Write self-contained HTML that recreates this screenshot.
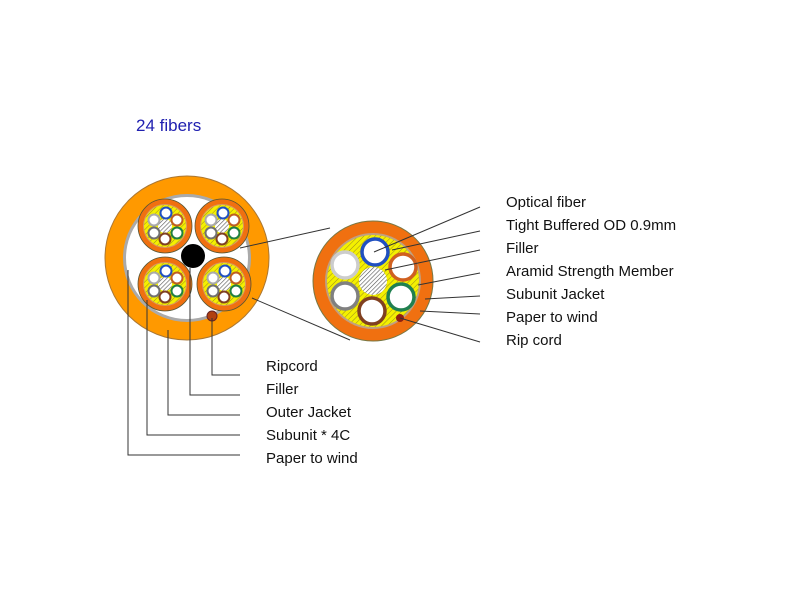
<!DOCTYPE html>
<html><head><meta charset="utf-8"><style>
body{margin:0;background:#fff;width:800px;height:600px;overflow:hidden}
svg text{font-family:"Liberation Sans",sans-serif;font-size:15px;fill:#111}
</style></head><body>
<svg width="800" height="600" viewBox="0 0 800 600">
<defs>
<pattern id="y" width="4" height="4" patternUnits="userSpaceOnUse" patternTransform="rotate(45)"><rect width="4" height="4" fill="#f4f000"/><line x1="0" y1="0" x2="0" y2="4" stroke="#9a8a20" stroke-width="1"/></pattern>
<pattern id="h" width="3" height="3" patternUnits="userSpaceOnUse" patternTransform="rotate(45)"><rect width="3" height="3" fill="#fff"/><line x1="0" y1="0" x2="0" y2="3" stroke="#555" stroke-width="1.2"/></pattern>
<g id="sub">
<circle r="27" fill="#f07010" stroke="#553" stroke-width="0.8"/>
<circle r="22" fill="#d89a60"/>
<circle r="21" fill="url(#y)"/>
<circle r="7" fill="url(#h)"/>
<circle cx="1" cy="-13" r="5.5" fill="#fff" stroke="#2050c0" stroke-width="2"/>
<circle cx="12" cy="-6" r="5.5" fill="#fff" stroke="#c06020" stroke-width="2"/>
<circle cx="12" cy="7" r="5.5" fill="#fff" stroke="#208040" stroke-width="2"/>
<circle cx="0" cy="13" r="5.5" fill="#fff" stroke="#804020" stroke-width="2"/>
<circle cx="-11" cy="7" r="5.5" fill="#fff" stroke="#707070" stroke-width="2"/>
<circle cx="-11" cy="-6" r="5.5" fill="#fff" stroke="#aaa" stroke-width="2"/>
</g>
</defs>
<text x="136" y="131" style="fill:#2020b0;font-size:17px">24 fibers</text>
<circle cx="187" cy="258" r="82" fill="#ff9900" stroke="#aa7733" stroke-width="1"/>
<circle cx="187" cy="258" r="64" fill="#aaa"/>
<circle cx="187" cy="258" r="61" fill="#fff"/>
<use href="#sub" x="165" y="226"/>
<use href="#sub" x="222" y="226"/>
<use href="#sub" x="165" y="284"/>
<use href="#sub" x="224" y="284"/>
<circle cx="193" cy="256" r="12" fill="#000"/>
<circle cx="212" cy="316" r="5" fill="#b04010" stroke="#622" stroke-width="1"/>
<circle cx="373" cy="281" r="60" fill="#f07010" stroke="#774" stroke-width="1"/>
<circle cx="373" cy="281" r="48" fill="#c0a080"/>
<circle cx="373" cy="281" r="46" fill="url(#y)"/>
<circle cx="373" cy="281" r="14" fill="url(#h)"/>
<g fill="#fff" stroke-width="3.5">
<circle cx="375" cy="252" r="13" stroke="#2050c0"/>
<circle cx="403" cy="267" r="13" stroke="#d06020"/>
<circle cx="401" cy="297" r="13" stroke="#208050"/>
<circle cx="372" cy="311" r="13" stroke="#804020"/>
<circle cx="345" cy="296" r="13" stroke="#808080"/>
<circle cx="345" cy="265" r="13" stroke="#ccc"/>
</g>
<circle cx="400" cy="318" r="4" fill="#902010"/>
<g stroke="#333" stroke-width="1" fill="none">
<line x1="240" y1="248" x2="330" y2="228"/>
<line x1="252" y1="298" x2="350" y2="340"/>
<line x1="374" y1="252" x2="480" y2="207"/>
<line x1="392" y1="250" x2="480" y2="231"/>
<line x1="385" y1="270" x2="480" y2="250"/>
<line x1="418" y1="285" x2="480" y2="273"/>
<line x1="425" y1="299" x2="480" y2="296"/>
<line x1="420" y1="311" x2="480" y2="314"/>
<line x1="400" y1="318" x2="480" y2="342"/>
<polyline points="212,318 212,375 240,375"/>
<polyline points="190,268 190,395 240,395"/>
<polyline points="168,330 168,415 240,415"/>
<polyline points="147,300 147,435 240,435"/>
<polyline points="128,270 128,455 240,455"/>
</g>
<text x="506" y="207">Optical fiber</text>
<text x="506" y="230">Tight Buffered OD 0.9mm</text>
<text x="506" y="253">Filler</text>
<text x="506" y="276">Aramid Strength Member</text>
<text x="506" y="299">Subunit Jacket</text>
<text x="506" y="322">Paper to wind</text>
<text x="506" y="345">Rip cord</text>
<text x="266" y="371">Ripcord</text>
<text x="266" y="394">Filler</text>
<text x="266" y="417">Outer Jacket</text>
<text x="266" y="440">Subunit * 4C</text>
<text x="266" y="463">Paper to wind</text>
</svg>
</body></html>
